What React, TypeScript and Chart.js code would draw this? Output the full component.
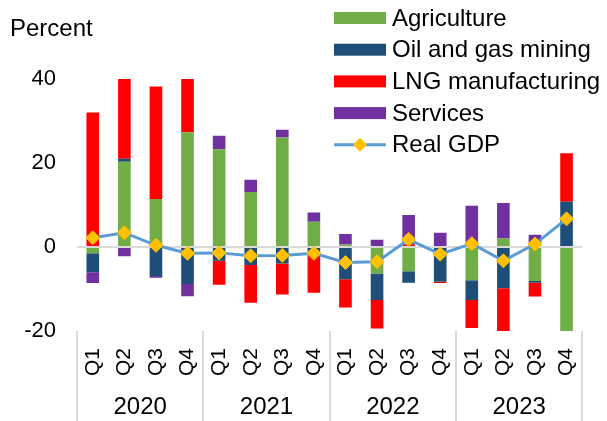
import React, { useEffect, useRef } from "react";
import { Chart, registerables } from "chart.js";

Chart.register(...registerables);

const quarters = ["Q1", "Q2", "Q3", "Q4", "Q1", "Q2", "Q3", "Q4", "Q1", "Q2", "Q3", "Q4", "Q1", "Q2", "Q3", "Q4"];
const years = ["2020", "2021", "2022", "2023"];

const agriculture = [-1.5, 20.3, 11.4, 27.3, 23.3, 13.1, 26.1, 6.0, 0.6, -6.3, -5.8, 0, -7.9, 2.0, -8.1, -22];
const oilAndGas = [-4.5, 0.7, -6.9, -8.8, -3.3, -4.3, -3.9, -1.9, -7.7, -6.3, -2.7, -8.3, -4.7, -9.8, -0.4, 10.8];
const lng = [32.0, 21, 26.8, 14, -5.7, -9.0, -7.4, -9.0, -6.7, -6.8, 0.6, -0.3, -6.7, -11, -3.3, 11.5];
const services = [-2.6, -2.2, -0.4, -2.9, 3.2, 2.9, 1.8, 2.2, 2.5, 1.7, 7.0, 3.4, 9.8, 8.5, 2.9, 0];
const realGdp = [2.2, 3.4, 0.4, -1.5, -1.4, -2.1, -2.0, -1.5, -3.7, -3.5, 1.8, -1.7, 0.8, -3.3, 0.7, 6.7];

const FONT = '"Liberation Sans", Arial, sans-serif';
const GREEN = "#70AD47";
const NAVY = "#1F4E79";
const RED = "#FF0000";
const PURPLE = "#7030A0";
const LINE = "#5B9BD5";
const GOLD = "#FFC000";

const legendItems = [
  { label: "Agriculture", color: GREEN, kind: "box" },
  { label: "Oil and gas mining", color: NAVY, kind: "box" },
  { label: "LNG manufacturing", color: RED, kind: "box" },
  { label: "Services", color: PURPLE, kind: "box" },
  { label: "Real GDP", color: LINE, kind: "line" },
];

const decorPlugin = {
  id: "decor",
  afterDraw(chart: any) {
    const ctx = chart.ctx as CanvasRenderingContext2D;
    const area = chart.chartArea;
    const h = chart.height;
    ctx.save();
    // year separators + labels
    const w = (area.right - area.left) / years.length;
    ctx.strokeStyle = "#D9D9D9";
    ctx.lineWidth = 2;
    for (let i = 0; i <= years.length; i++) {
      const xx = Math.round(area.left + i * w);
      ctx.beginPath();
      ctx.moveTo(xx, area.bottom);
      ctx.lineTo(xx, h);
      ctx.stroke();
    }
    ctx.fillStyle = "#000";
    ctx.font = `24px ${FONT}`;
    ctx.textAlign = "center";
    ctx.textBaseline = "middle";
    years.forEach((y, i) => {
      ctx.fillText(y, area.left + (i + 0.5) * w, 407);
    });
    // axis title
    ctx.textAlign = "left";
    ctx.fillText("Percent", 10, 29);
    // legend
    const bx = 334;
    const bw = 52;
    const tx = 392;
    const y0 = 18;
    const dy = 31.7;
    legendItems.forEach((it, i) => {
      const cy = y0 + i * dy;
      if (it.kind === "box") {
        ctx.fillStyle = it.color;
        ctx.fillRect(bx, cy - 6, bw, 12);
      } else {
        ctx.strokeStyle = it.color;
        ctx.lineWidth = 3;
        ctx.beginPath();
        ctx.moveTo(bx, cy);
        ctx.lineTo(bx + bw, cy);
        ctx.stroke();
        const cx = bx + bw / 2;
        ctx.fillStyle = GOLD;
        ctx.beginPath();
        ctx.moveTo(cx, cy - 7);
        ctx.lineTo(cx + 7, cy);
        ctx.lineTo(cx, cy + 7);
        ctx.lineTo(cx - 7, cy);
        ctx.closePath();
        ctx.fill();
      }
      ctx.fillStyle = "#000";
      ctx.font = `24px ${FONT}`;
      ctx.textAlign = "left";
      ctx.textBaseline = "middle";
      ctx.fillText(it.label, tx, cy + 1);
    });
    ctx.restore();
  },
};

export default function App() {
  const ref = useRef<HTMLCanvasElement>(null);

  useEffect(() => {
    const canvas = ref.current;
    if (!canvas) return;
    const barBase = { stack: "s", order: 1, borderWidth: 0, barPercentage: 0.4, categoryPercentage: 1 };
    const chart = new Chart(canvas, {
      type: "bar",
      data: {
        labels: quarters,
        datasets: [
          { ...barBase, label: "Agriculture", data: agriculture, backgroundColor: GREEN },
          { ...barBase, label: "Oil and gas mining", data: oilAndGas, backgroundColor: NAVY },
          { ...barBase, label: "LNG manufacturing", data: lng, backgroundColor: RED },
          { ...barBase, label: "Services", data: services, backgroundColor: PURPLE },
          {
            type: "line",
            label: "Real GDP",
            data: realGdp,
            stack: "gdp",
            order: 0,
            borderColor: LINE,
            borderWidth: 3,
            tension: 0,
            pointStyle: "rectRot",
            pointRadius: 7,
            pointBackgroundColor: GOLD,
            pointBorderColor: GOLD,
            pointBorderWidth: 1,
          } as any,
        ],
      },
      options: {
        animation: false,
        responsive: false,
        maintainAspectRatio: false,
        devicePixelRatio: 1,
        layout: { padding: { top: 79, left: 0, right: 0, bottom: 0 } },
        plugins: {
          legend: { display: false },
          tooltip: { enabled: false },
          title: { display: false },
        },
        scales: {
          x: {
            stacked: true,
            grid: { display: false, drawTicks: false },
            border: { display: false },
            ticks: {
              autoSkip: false,
              minRotation: 90,
              maxRotation: 90,
              padding: 17,
              color: "#000",
              font: { family: FONT, size: 21 },
            },
            afterFit(s: any) {
              s.height = 90;
            },
          },
          y: {
            stacked: true,
            min: -20,
            max: 40,
            ticks: {
              stepSize: 20,
              padding: 21,
              color: "#000",
              font: { family: FONT, size: 22 },
            },
            grid: {
              drawTicks: false,
              lineWidth: 2,
              color: (c: any) => (c.tick && c.tick.value === 0 ? "#D9D9D9" : "rgba(0,0,0,0)"),
            },
            border: { display: false },
            afterFit(s: any) {
              s.width = 77;
            },
          },
        },
      } as any,
      plugins: [decorPlugin],
    });
    return () => chart.destroy();
  }, []);

  return (
    <div
      style={{
        position: "fixed",
        left: 0,
        top: 0,
        width: 607,
        height: 421,
        overflow: "hidden",
        background: "#fff",
      }}
    >
      <canvas ref={ref} width={609} height={421} style={{ display: "block" }} />
    </div>
  );
}
